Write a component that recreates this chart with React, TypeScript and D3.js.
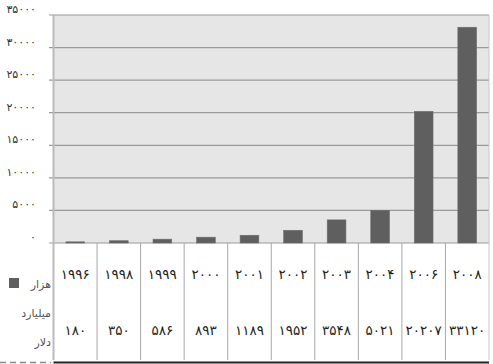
import React from "react";
import * as d3 from "d3";

const years = [1996, 1998, 1999, 2000, 2001, 2002, 2003, 2004, 2006, 2008];
const values = [180, 350, 586, 893, 1189, 1952, 3548, 5021, 20207, 33120];
const yTicks = [0, 5000, 10000, 15000, 20000, 25000, 30000, 35000];
const legendLines = ["هزار", "میلیارد", "دلار"];

const fa = (n: number) => String(n).replace(/[0-9]/g, (d) => "۰۱۲۳۴۵۶۷۸۹"[+d]);

const W = 493, H = 364;
const left = 53.5, right = 489, top = 15, bottom = 243, tableBottom = 360;

export default function App() {
  const x = d3.scaleBand<number>().domain(years).range([left, right]).paddingInner(0).paddingOuter(0);
  const y = d3.scaleLinear().domain([0, 35000]).range([bottom, top]);
  const bw = x.bandwidth() * 0.43;
  const font = "DejaVu Sans";
  return (
    <svg width={W} height={H} style={{ position: "absolute", left: 0, top: 0 }} fontFamily={font}>
      <rect x={0} y={0} width={W} height={H} fill="#fff" />
      <rect x={left} y={top} width={right - left} height={bottom - top} fill="#e6e6e6" />
      {yTicks.map((t) => (
        <g key={t}>
          <line x1={49} x2={right} y1={y(t)} y2={y(t)} stroke="#9a9a9a" strokeWidth={1.2} />
          <text x={36} y={y(t) - 2} textAnchor="end" fontSize={11} fill="#333">
            {fa(t)}
          </text>
        </g>
      ))}
      {years.map((yr, i) => (
        <rect
          key={yr}
          x={x(yr)! + (x.bandwidth() - bw) / 2}
          y={y(values[i])}
          width={bw}
          height={bottom - y(values[i])}
          fill="#5f5f5f"
          stroke="#6e6e6e"
          strokeWidth={0.6}
        />
      ))}
      {years.map((yr) => (
        <line key={"v" + yr} x1={x(yr)!} x2={x(yr)!} y1={bottom} y2={tableBottom} stroke="#a8a8a8" strokeWidth={1} />
      ))}
      <line x1={right} x2={right} y1={top} y2={tableBottom} stroke="#c8c8c8" strokeWidth={1} />
      <line x1={left} x2={left} y1={top} y2={tableBottom} stroke="#bbbbbb" strokeWidth={2} />
      {years.map((yr, i) => (
        <g key={"t" + yr}>
          <text x={x(yr)! + x.bandwidth() / 2} y={279} textAnchor="middle" fontSize={13.5} fill="#222">
            {fa(yr)}
          </text>
          <text x={x(yr)! + x.bandwidth() / 2} y={335} textAnchor="middle" fontSize={13.5} fill="#222">
            {fa(values[i])}
          </text>
        </g>
      ))}
      <rect x={9} y={278} width={10} height={10} fill="#5f5f5f" />
      {legendLines.map((s, i) => (
        <text key={s} x={51} y={288 + i * 29} textAnchor="end" fontSize={11} fill="#555">
          {s}
        </text>
      ))}
      <line x1={0} x2={51} y1={362.5} y2={362.5} stroke="#888" strokeWidth={1.5} strokeDasharray="6,4" />
      <line x1={left} x2={right} y1={362.5} y2={362.5} stroke="#222" strokeWidth={2} />
    </svg>
  );
}
